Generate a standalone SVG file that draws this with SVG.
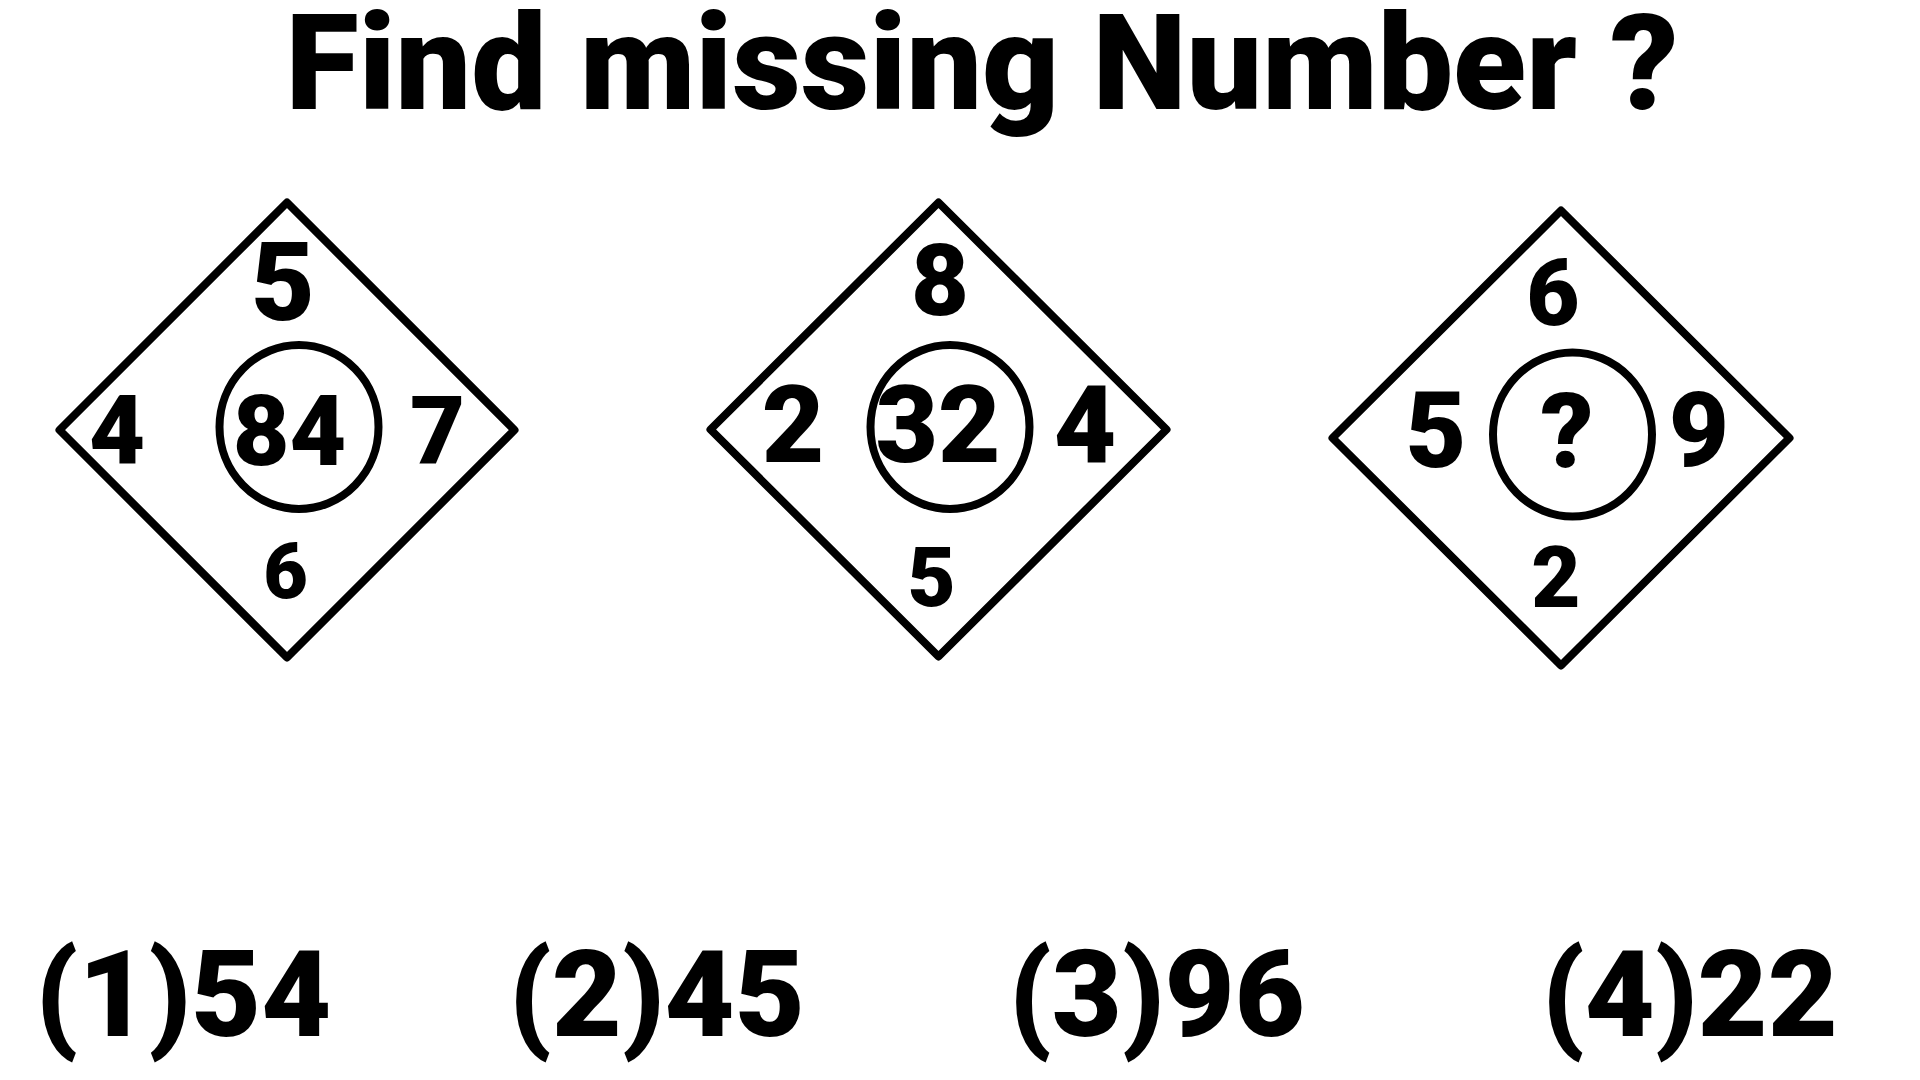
<svg xmlns="http://www.w3.org/2000/svg" width="1920" height="1080" viewBox="0 0 1920 1080">
<style>
.shape{fill:none;stroke:#000;stroke-width:8;stroke-linejoin:round}
text{font-family:Roboto,"Liberation Sans",sans-serif;font-weight:900;fill:#000;text-anchor:middle}
</style>
<rect width="1920" height="1080" fill="#fff"/>
<g id="title"><text x="982" y="109" font-size="134">Find missing Number ?</text></g>
<g id="connectors"/>
<g id="diamond1">
<polygon class="shape" points="287,202.5 514.5,430 287,657.5 59.5,430"/>
<ellipse class="shape" cx="299" cy="427" rx="79.5" ry="82"/>
<text x="283" y="320" font-size="110">5</text>
<text x="117" y="464" font-size="97">4</text>
<text x="289.5" y="465" font-size="98">84</text>
<text x="437.5" y="463" font-size="95">7</text>
<text x="285.5" y="598" font-size="77">6</text>
</g>
<g id="diamond2">
<polygon class="shape" points="938.5,202.5 1166.5,429.5 938.5,656.5 710.5,429.5"/>
<ellipse class="shape" cx="950" cy="427" rx="79.5" ry="82"/>
<text x="940" y="315" font-size="100">8</text>
<text x="793" y="462" font-size="108">2</text>
<text x="938" y="462" font-size="108">32</text>
<text x="1085" y="462" font-size="108">4</text>
<text x="931.5" y="606" font-size="83">5</text>
</g>
<g id="diamond3">
<polygon class="shape" points="1561,210.5 1789.5,438 1561,665.5 1332.5,438"/>
<ellipse class="shape" cx="1572.5" cy="434.5" rx="79.5" ry="82"/>
<text x="1553" y="325" font-size="92">6</text>
<text x="1436" y="467" font-size="105">5</text>
<text x="1567" y="467" font-size="104">?</text>
<text x="1699" y="466" font-size="104">9</text>
<text x="1556" y="607" font-size="85">2</text>
</g>
<g id="answers">
<text x="183.5" y="1036" font-size="121">(1)54</text>
<text x="657" y="1036" font-size="121">(2)45</text>
<text x="1157" y="1036" font-size="121">(3)96</text>
<text x="1690" y="1036" font-size="121">(4)22</text>
</g>
</svg>
